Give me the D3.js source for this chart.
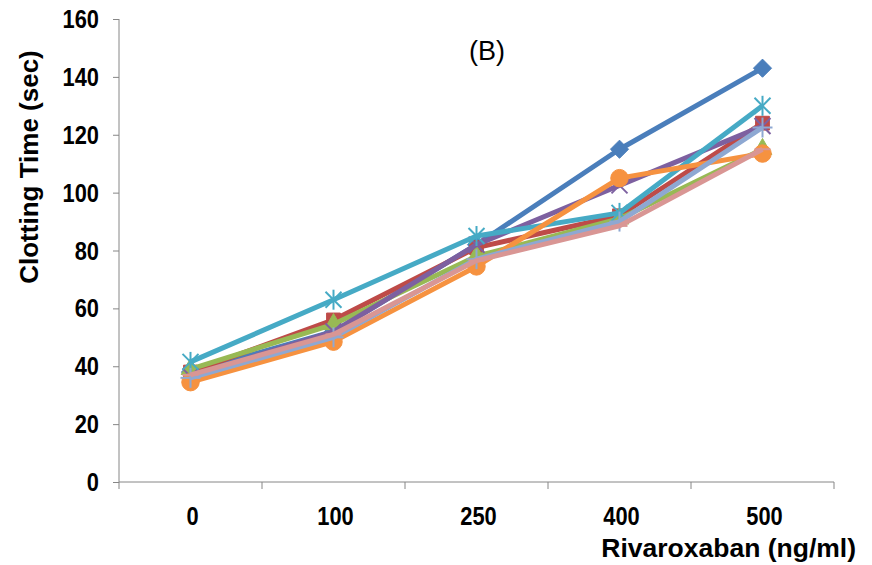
<!DOCTYPE html>
<html>
<head>
<meta charset="utf-8">
<script src="https://cdn.jsdelivr.net/npm/d3@7"></script>
<style>
  body { margin: 0; background: #fff; }
  text { font-family: "Liberation Sans", Arial, sans-serif; }
</style>
</head>
<body>
<div id="chart"></div>
<script>
var categories = ["0", "100", "250", "400", "500"];
var yTicks = [0, 20, 40, 60, 80, 100, 120, 140, 160];

// one array per series
var series1 = [38, 52, 82, 115, 143];
var series2 = [38, 56, 81, 92, 124];
var series3 = [39, 54.5, 78, 91, 115];
var series4 = [36.5, 52, 82, 102.5, 123];
var series5 = [41.5, 63, 85, 93, 130];
var series6 = [34.5, 48.5, 74.5, 105, 113.5];
var series7 = [36, 50, 77, 90, 122.5];
var series8 = [37, 51, 76.5, 88.5, 115];

(function() {
var seriesList = [series1, series2, series3, series4, series5, series6, series7, series8];
var colors = ["#4A7EBB", "#BE4B48", "#98B954", "#7D60A0", "#46AAC5", "#F69240", "#8EA8D2", "#D99694"];
var markers = ["diamond", "square", "triangle", "x", "star", "circle", "plus", "dash"];

var width = 872, height = 565;
var mLeft = 119, mRight = 834, mTop = 19, mBottom = 482;

var svg = d3.select("#chart").append("svg")
  .attr("width", width)
  .attr("height", height);

/* Scales */
var x = d3.scaleBand().domain(categories).range([mLeft, mRight]);
var y = d3.scaleLinear().domain([0, 160]).range([mBottom, mTop]);

// text helper: stretched a little vertically like the original
function label(px, py, str, opts) {
  var g = svg.append("g")
    .attr("transform", `translate(${px},${py}) ${opts.rotate ? "rotate(-90)" : ""} scale(${opts.sx || 1},${opts.sy || 1})`);
  g.append("text")
    .attr("text-anchor", opts.anchor || "middle")
    .style("font-size", (opts.size || 24) + "px")
    .style("font-weight", opts.bold === false ? "normal" : "bold")
    .attr("fill", "#000")
    .text(str);
}

/* Axes */
var axisColor = "#868686";

var yAxis = svg.append("g")
  .attr("transform", `translate(${mLeft},0)`)
  .call(d3.axisLeft(y).tickValues(yTicks).tickSize(6).tickFormat(""));
yAxis.select(".domain").attr("stroke", axisColor).attr("d", `M0,${mTop}V${mBottom}`);
yAxis.selectAll(".tick line").attr("stroke", axisColor);

var xAxis = svg.append("g")
  .attr("transform", `translate(0,${mBottom})`)
  .call(d3.axisBottom(x).tickSize(0).tickFormat(""));
xAxis.select(".domain").attr("stroke", axisColor).attr("d", `M${mLeft},0H${mRight}`);

// x ticks sit on the category boundaries
var bounds = categories.map(c => x(c)).concat([x(categories[categories.length - 1]) + x.bandwidth()]);
svg.append("g").selectAll("line")
  .data(bounds)
  .enter().append("line")
  .attr("x1", d => d).attr("x2", d => d)
  .attr("y1", mBottom).attr("y2", mBottom + 7)
  .attr("stroke", axisColor);

/* Tick labels */
yTicks.forEach(function(t) {
  label(99, y(t) + 9, String(t), { anchor: "end", size: 23, sx: 0.95, sy: 1.12 });
});
categories.forEach(function(c) {
  label(x(c) + x.bandwidth() / 2 + 2, 525, c, { size: 23, sx: 0.95, sy: 1.12 });
});

/* Titles */
label(38, 167, "Clotting Time (sec)", { rotate: true, size: 26, sx: 1, sy: 1.0 });
label(856, 557, "Rivaroxaban (ng/ml)", { anchor: "end", size: 26.5, sx: 1, sy: 1.0 });
label(487, 60, "(B)", { size: 27, bold: false, sx: 1, sy: 1.0 });

/* Lines and markers */
var cx = (d, i) => x(categories[i]) + x.bandwidth() / 2;
var line = d3.line().x(cx).y(d => y(d));

var symbolFor = {
  diamond: d3.symbol().type(d3.symbolDiamond2).size(210),
  square: d3.symbol().type(d3.symbolSquare).size(190),
  triangle: d3.symbol().type(d3.symbolTriangle).size(150),
  circle: d3.symbol().type(d3.symbolCircle).size(240)
};

seriesList.forEach(function(values, s) {
  var g = svg.append("g");
  var color = colors[s];

  g.append("path")
    .datum(values)
    .attr("d", line)
    .attr("fill", "none")
    .attr("stroke", color)
    .attr("stroke-width", 5)
    .attr("stroke-linejoin", "round");

  var pts = g.selectAll("g")
    .data(values)
    .enter().append("g")
    .attr("transform", (d, i) => `translate(${cx(d, i)},${y(d)})`);

  var m = markers[s];
  if (symbolFor[m]) {
    pts.append("path")
      .attr("d", symbolFor[m]())
      .attr("fill", color)
      .attr("stroke", color)
      .attr("stroke-width", 1);
  } else {
    var r = 8;
    var segs = [];
    if (m === "x" || m === "star") segs.push([-r, -r, r, r], [-r, r, r, -r]);
    if (m === "star" || m === "plus") segs.push([0, -r - 2, 0, r + 2]);
    if (m === "plus") segs.push([-r - 2, 0, r + 2, 0]);
    if (m === "dash") segs.push([-r, 0, r, 0]);
    segs.forEach(function(sg) {
      pts.append("line")
        .attr("x1", sg[0]).attr("y1", sg[1])
        .attr("x2", sg[2]).attr("y2", sg[3])
        .attr("stroke", color)
        .attr("stroke-width", 2);
    });
  }
});
})();
</script>
</body>
</html>
